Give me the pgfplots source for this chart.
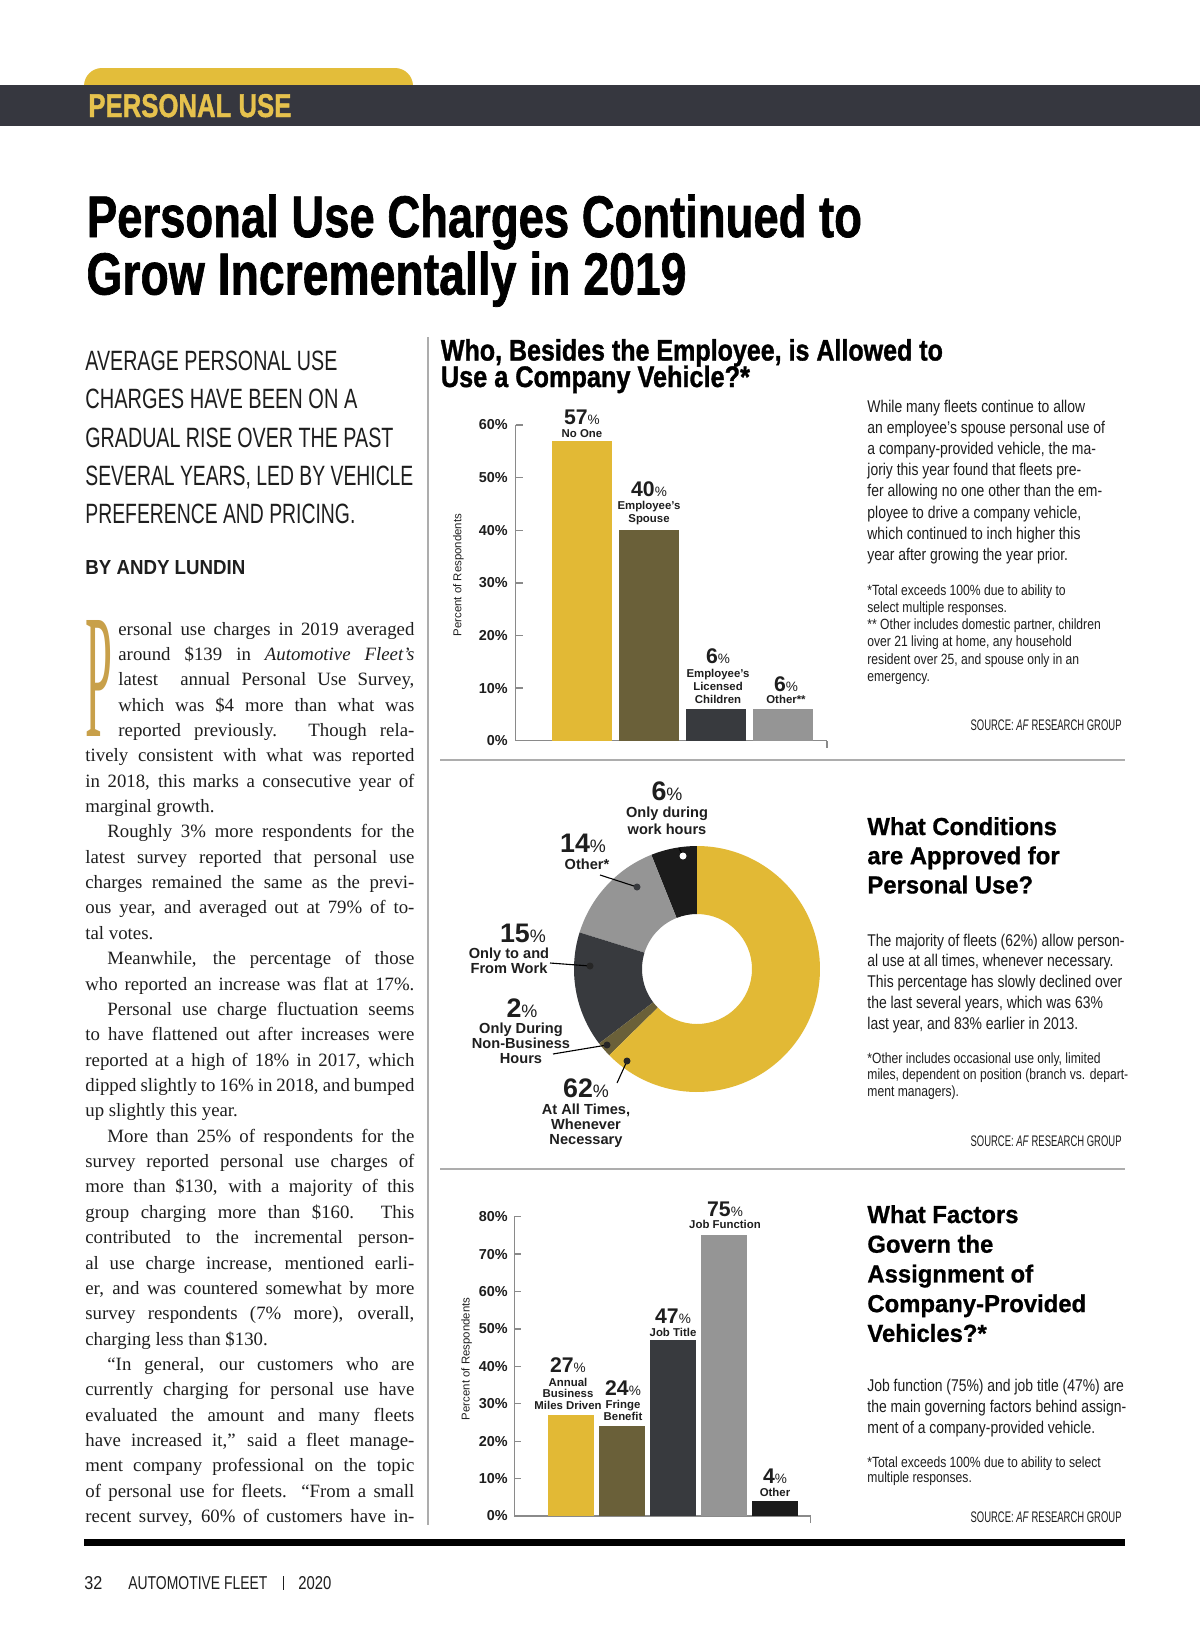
\documentclass[border=0pt]{standalone}
\usepackage{fontspec}
\usepackage{graphicx}
\usepackage{pgfplots}
\pgfplotsset{compat=1.18}
\setmainfont{Liberation Serif}
\newfontfamily\hv{Liberation Sans}
\newfontfamily\hvb[FakeBold=1.3]{Liberation Sans}
\newfontfamily\hvh[FakeBold=0.8, FakeStretch=0.97]{Liberation Sans}
\newfontfamily\hvc[FakeStretch=0.82]{Liberation Sans}

\definecolor{cgold}{HTML}{E2B935}
\definecolor{colive}{HTML}{6A6039}
\definecolor{cdark}{HTML}{383A3E}
\definecolor{clight}{HTML}{959595}
\definecolor{cblack}{HTML}{1B1B1B}
\definecolor{axgray}{HTML}{8A8A8A}
\definecolor{band}{HTML}{36373F}
\definecolor{tabc}{HTML}{E3BD3A}
\definecolor{hdrtxt}{HTML}{E6C24D}
\definecolor{dropc}{HTML}{C8A04A}
\definecolor{rulec}{HTML}{ADADAD}
\definecolor{txt}{HTML}{1E1E1E}

\newcommand\cstack[2]{\vtop{\baselineskip=#1\relax\lineskiplimit=-20pt\lineskip=0pt\halign{\hfil##\hfil\cr#2\crcr}}}
\newcommand\lstack[2]{\vtop{\baselineskip=#1\relax\lineskiplimit=-20pt\lineskip=0pt\halign{##\hfil\cr#2\crcr}}}
\newcommand\bn[3]{{\hv\bfseries\fontsize{#1}{#1}\selectfont #3}{\hv\fontsize{#2}{#2}\selectfont\%}}
\newlength\colw \setlength\colw{164.5pt}
\newlength\colwi \setlength\colwi{148pt}
\newcommand\J[1]{\hbox to \colw{#1}}
\newcommand\Ji[1]{\hbox to \colwi{#1}}
\newcommand\E[1]{\hbox to \colw{#1\hfil}}
\newcommand\lbA{\hv\bfseries\fontsize{5.7}{6.5}\selectfont}
\newcommand\lbD{\hv\bfseries\fontsize{7.3}{8}\selectfont}

\begin{document}
\begin{tikzpicture}[x=0.5pt,y=-0.5pt]
\useasboundingbox (0,0) rectangle (1200,1638);
\fill[white] (0,0) rectangle (1200,1638);

% ---------- header ----------
\fill[tabc, rounded corners=9pt] (84,68) rectangle (413,104);
\fill[band] (0,85) rectangle (1200,126);
\node[anchor=base west, inner sep=0pt, text=hdrtxt] at (88,117) {\resizebox{101.5pt}{11.5pt}{\hvb\bfseries PERSONAL USE}};

% ---------- main title ----------
\node[anchor=base west, inner sep=0pt, text=black] at (86.5,237) {\resizebox{387.5pt}{21.25pt}{\hvb\bfseries Personal Use Charges Continued to}};
\node[anchor=base west, inner sep=0pt, text=black] at (86,294.5) {\resizebox{300pt}{21.5pt}{\hvb\bfseries Grow Incrementally in 2019}};

% ---------- left column ----------
\node[anchor=base west, inner sep=0pt, text=txt] at (85,370) {\resizebox{126pt}{9.75pt}{\hv AVERAGE PERSONAL USE}};
\node[anchor=base west, inner sep=0pt, text=txt] at (85,408.5) {\resizebox{136pt}{9.75pt}{\hv CHARGES HAVE BEEN ON A}};
\node[anchor=base west, inner sep=0pt, text=txt] at (85,447) {\resizebox{154pt}{9.75pt}{\hv GRADUAL RISE OVER THE PAST}};
\node[anchor=base west, inner sep=0pt, text=txt] at (85,485.5) {\resizebox{164pt}{9.75pt}{\hv SEVERAL YEARS, LED BY VEHICLE}};
\node[anchor=base west, inner sep=0pt, text=txt] at (85,523.5) {\resizebox{135pt}{9.75pt}{\hv PREFERENCE AND PRICING.}};
\node[anchor=base west, inner sep=0pt, text=txt] at (85,574) {\resizebox{80pt}{7pt}{\hv\bfseries BY ANDY LUNDIN}};

\node[anchor=base west, inner sep=0pt, text=dropc] at (85,736) {\resizebox{13.5pt}{58pt}{\fontsize{20}{20}\selectfont P}};

\node[anchor=base west, inner sep=0pt, text=txt] at (118,635) {\fontsize{9.4}{12.68}\selectfont\vtop{\baselineskip=12.68pt\lineskiplimit=-20pt\lineskip=0pt
\Ji{ersonal use charges in 2019 averaged}
\Ji{around \$139 in \textit{Automotive Fleet’s}}
\Ji{latest \ annual Personal Use Survey,}
\Ji{which was \$4 more than what was}
\Ji{reported previously. Though rela-}
}};
\node[anchor=base west, inner sep=0pt, text=txt] at (85,761.8) {\fontsize{9.4}{12.68}\selectfont\vtop{\baselineskip=12.68pt\lineskiplimit=-20pt\lineskip=0pt
\J{tively consistent with what was reported}
\J{in 2018, this marks a consecutive year of}
\E{marginal growth.}
\J{\hspace*{11pt}Roughly 3\% more respondents for the}
\J{latest survey reported that personal use}
\J{charges remained the same as the previ-}
\J{ous year, and averaged out at 79\% of to-}
\E{tal votes.}
\J{\hspace*{11pt}Meanwhile, the percentage of those}
\J{who reported an increase was flat at 17\%.}
\J{\hspace*{11pt}Personal use charge fluctuation seems}
\J{to have flattened out after increases were}
\J{reported at a high of 18\% in 2017, which}
\J{dipped slightly to 16\% in 2018, and bumped}
\E{up slightly this year.}
\J{\hspace*{11pt}More than 25\% of respondents for the}
\J{survey reported personal use charges of}
\J{more than \$130, with a majority of this}
\J{group charging more than \$160. This}
\J{contributed to the incremental person-}
\J{al use charge increase, mentioned earli-}
\J{er, and was countered somewhat by more}
\J{survey respondents (7\% more), overall,}
\E{charging less than \$130.}
\J{\hspace*{11pt}“In general, our customers who are}
\J{currently charging for personal use have}
\J{evaluated the amount and many fleets}
\J{have increased it,” said a fleet manage-}
\J{ment company professional on the topic}
\J{of personal use for fleets. “From a small}
\J{recent survey, 60\% of customers have in-}
}};

% ---------- rules ----------
\draw[rulec, line width=0.6pt] (428,337) -- (428,1525);
\draw[rulec, line width=1pt] (440,760) -- (1125,760);
\draw[rulec, line width=1pt] (440,1169) -- (1125,1169);
\fill[black] (84,1539) rectangle (1125,1546);

% ---------- footer ----------
\node[anchor=base west, inner sep=0pt, text=txt] at (84,1589) {\resizebox{9pt}{6.5pt}{\hv 32}};
\node[anchor=base west, inner sep=0pt, text=txt] at (128,1589) {\resizebox{69.5pt}{6.5pt}{\hv AUTOMOTIVE FLEET}};
\draw[txt, line width=0.5pt] (283,1576) -- (283,1590);
\node[anchor=base west, inner sep=0pt, text=txt] at (298,1589) {\resizebox{16.5pt}{6.5pt}{\hv 2020}};

% ---------- chart 1 ----------
\node[anchor=base west, inner sep=0pt, text=black] at (440.5,360.5) {\resizebox{251pt}{10.75pt}{\hvb\bfseries Who, Besides the Employee, is Allowed to}};
\node[anchor=base west, inner sep=0pt, text=black] at (440.5,387) {\resizebox{154.5pt}{10.75pt}{\hvb\bfseries Use a Company Vehicle?*}};

\begin{axis}[
  at={(257.85pt,-370.35pt)}, anchor=south west,
  scale only axis, width=155.65pt, height=157.85pt,
  xmin=-0.99, xmax=3.657, ymin=0, ymax=60,
  axis x line*=bottom, axis y line*=left, tick pos=left,
  axis line style={axgray, line width=0.65pt},
  tick style={axgray, line width=0.65pt},
  tick align=inside, major tick length=3.5pt,
  xtick=\empty, extra x ticks={3.657}, extra x tick labels={},
  ytick={0,10,20,30,40,50,60},
  yticklabels={0\%,10\%,20\%,30\%,40\%,50\%,60\%},
  yticklabel style={font=\hv\bfseries\fontsize{7.2}{8}\selectfont, inner sep=0pt, xshift=-3.85pt, text=txt},
  ylabel={Percent of Respondents},
  every axis y label/.style={at={(axis description cs:-0.184,0.525)}, rotate=90, anchor=center, font=\hv\fontsize{5.7}{6}\selectfont, text=txt},
  ybar=0pt, bar width=30pt,
  clip=false,
]
\addplot[fill=cgold, draw=none, bar shift=0pt] coordinates {(0,57)};
\addplot[fill=colive, draw=none, bar shift=0pt] coordinates {(1,40)};
\addplot[fill=cdark, draw=none, bar shift=0pt] coordinates {(2,6)};
\addplot[fill=clight, draw=none, bar shift=0pt] coordinates {(3,6)};
\end{axis}

\node[anchor=base, inner sep=0pt, text=txt] at (582,424) {\bn{10.6}{6.8}{57}};
\node[anchor=base, inner sep=0pt, text=txt] at (582,437) {\lbA\cstack{6.5pt}{No One}};
\node[anchor=base, inner sep=0pt, text=txt] at (649,496) {\bn{10.6}{6.8}{40}};
\node[anchor=base, inner sep=0pt, text=txt] at (649,509) {\lbA\cstack{6.5pt}{Employee’s\cr Spouse}};
\node[anchor=base, inner sep=0pt, text=txt] at (718,663) {\bn{10.6}{6.8}{6}};
\node[anchor=base, inner sep=0pt, text=txt] at (718,677) {\lbA\cstack{6.5pt}{Employee’s\cr Licensed\cr Children}};
\node[anchor=base, inner sep=0pt, text=txt] at (786,691) {\bn{10.6}{6.8}{6}};
\node[anchor=base, inner sep=0pt, text=txt] at (786,703) {\lbA\cstack{6.5pt}{Other**}};

\node[anchor=base west, inner sep=0pt, text=txt] at (867,412) {\hvc\fontsize{8.5}{10.6}\selectfont\lstack{10.6pt}{While many fleets continue to allow\cr
an employee’s spouse personal use of\cr
a company-provided vehicle, the ma-\cr
joriy this year found that fleets pre-\cr
fer allowing no one other than the em-\cr
ployee to drive a company vehicle,\cr
which continued to inch higher this\cr
year after growing the year prior.}};
\node[anchor=base west, inner sep=0pt, text=txt] at (867,595) {\hvc\fontsize{7.4}{8.65}\selectfont\lstack{8.65pt}{*Total exceeds 100\% due to ability to\cr
select multiple responses.\cr
** Other includes domestic partner, children\cr
over 21 living at home, any household\cr
resident over 25, and spouse only in an\cr
emergency.}};
\node[anchor=base east, inner sep=0pt, text=txt] at (1122,730) {\resizebox{75.5pt}{5.35pt}{\hv SOURCE: \textit{AF} RESEARCH GROUP}};

% ---------- chart 2 (donut) ----------
\begin{scope}[shift={(697,969)}]
  \pgfmathsetmacro\aA{90}
  \pgfmathsetmacro\aB{\aA+6/99*360}
  \pgfmathsetmacro\aC{\aB+14/99*360}
  \pgfmathsetmacro\aD{\aC+15/99*360}
  \pgfmathsetmacro\aE{\aD+2/99*360}
  \pgfmathsetmacro\aF{\aE+62/99*360}
  \foreach \s/\e/\c in {\aA/\aB/cblack, \aB/\aC/clight, \aC/\aD/cdark, \aD/\aE/colive, \aE/\aF/cgold}{
    \fill[\c] (\s:61.5pt) arc[start angle=\s, end angle=\e, radius=61.5pt] -- (\e:27.5pt) arc[start angle=\e, end angle=\s, radius=27.5pt] -- cycle;
  }
\end{scope}

\draw[black, line width=0.55pt] (679,848) -- (683,856);
\fill[white] (683,856) circle[radius=1.75pt];
\draw[black, line width=0.55pt] (600,875) -- (637,887);
\fill[cdark] (637,887) circle[radius=1.75pt];
\draw[black, line width=0.55pt] (550,963) -- (590,966);
\fill[black!85] (590,966) circle[radius=1.75pt];
\draw[black, line width=0.55pt] (553,1054) -- (607,1045);
\fill[black!85] (607,1045) circle[radius=1.75pt];
\draw[black, line width=0.55pt] (617,1083) -- (627,1061);
\fill[black!85] (627,1061) circle[radius=1.75pt];

\node[anchor=base, inner sep=0pt, text=txt] at (667,800) {\bn{13.4}{9}{6}};
\node[anchor=base, inner sep=0pt, text=txt] at (667,817) {\lbD\cstack{8.5pt}{Only during\cr work hours}};
\node[anchor=base, inner sep=0pt, text=txt] at (583,852) {\bn{13.4}{9}{14}};
\node[anchor=base, inner sep=0pt, text=txt] at (587,869) {\lbD\cstack{8pt}{Other*}};
\node[anchor=base, inner sep=0pt, text=txt] at (523,942) {\bn{13.4}{9}{15}};
\node[anchor=base, inner sep=0pt, text=txt] at (509,958) {\lbD\cstack{7.6pt}{Only to and\cr From Work}};
\node[anchor=base, inner sep=0pt, text=txt] at (522,1017) {\bn{13.4}{9}{2}};
\node[anchor=base, inner sep=0pt, text=txt] at (521,1033) {\lbD\cstack{7.5pt}{Only During\cr Non-Business\cr Hours}};
\node[anchor=base, inner sep=0pt, text=txt] at (586,1097) {\bn{13.4}{9}{62}};
\node[anchor=base, inner sep=0pt, text=txt] at (586,1114) {\lbD\cstack{7.5pt}{At All Times,\cr Whenever\cr Necessary}};

\node[anchor=base west, inner sep=0pt, text=black] at (867,835) {\hvh\bfseries\fontsize{12.3}{14.6}\selectfont\lstack{14.6pt}{What Conditions\cr are Approved for\cr Personal Use?}};
\node[anchor=base west, inner sep=0pt, text=txt] at (867,946) {\hvc\fontsize{8.5}{10.45}\selectfont\lstack{10.45pt}{The majority of fleets (62\%) allow person-\cr
al use at all times, whenever necessary.\cr
This percentage has slowly declined over\cr
the last several years, which was 63\%\cr
last year, and 83\% earlier in 2013.}};
\node[anchor=base west, inner sep=0pt, text=txt] at (867,1063) {\hvc\fontsize{7.4}{8.4}\selectfont\lstack{8.4pt}{*Other includes occasional use only, limited\cr
miles, dependent on position (branch vs. depart-\cr
ment managers).}};
\node[anchor=base east, inner sep=0pt, text=txt] at (1122,1146) {\resizebox{75.5pt}{5.35pt}{\hv SOURCE: \textit{AF} RESEARCH GROUP}};

% ---------- chart 3 ----------
\begin{axis}[
  at={(257.15pt,-758pt)}, anchor=south west,
  scale only axis, width=148.2pt, height=149.65pt,
  xmin=-1.11, xmax=4.69, ymin=0, ymax=80,
  axis x line*=bottom, axis y line*=left, tick pos=left,
  axis line style={axgray, line width=0.65pt},
  tick style={axgray, line width=0.65pt},
  tick align=inside, major tick length=3.5pt,
  xtick=\empty, extra x ticks={4.69}, extra x tick labels={},
  ytick={0,10,20,30,40,50,60,70,80},
  yticklabels={0\%,10\%,20\%,30\%,40\%,50\%,60\%,70\%,80\%},
  yticklabel style={font=\hv\bfseries\fontsize{7.2}{8}\selectfont, inner sep=0pt, xshift=-3.15pt, text=txt},
  ylabel={Percent of Respondents},
  every axis y label/.style={at={(axis description cs:-0.161,0.525)}, rotate=90, anchor=center, font=\hv\fontsize{5.7}{6}\selectfont, text=txt},
  ybar=0pt, bar width=23pt,
  clip=false,
]
\addplot[fill=cgold, draw=none, bar shift=0pt] coordinates {(0,27)};
\addplot[fill=colive, draw=none, bar shift=0pt] coordinates {(1,24)};
\addplot[fill=cdark, draw=none, bar shift=0pt] coordinates {(2,47)};
\addplot[fill=clight, draw=none, bar shift=0pt] coordinates {(3,75)};
\addplot[fill=cblack, draw=none, bar shift=0pt] coordinates {(4,4)};
\end{axis}

\node[anchor=base, inner sep=0pt, text=txt] at (568,1372) {\bn{10.6}{6.8}{27}};
\node[anchor=base, inner sep=0pt, text=txt] at (568,1386) {\lbA\cstack{5.75pt}{Annual\cr Business\cr Miles Driven}};
\node[anchor=base, inner sep=0pt, text=txt] at (623,1395) {\bn{10.6}{6.8}{24}};
\node[anchor=base, inner sep=0pt, text=txt] at (623,1408) {\lbA\cstack{6pt}{Fringe\cr Benefit}};
\node[anchor=base, inner sep=0pt, text=txt] at (673,1323) {\bn{10.6}{6.8}{47}};
\node[anchor=base, inner sep=0pt, text=txt] at (673,1336) {\lbA\cstack{6pt}{Job Title}};
\node[anchor=base, inner sep=0pt, text=txt] at (725,1216) {\bn{10.6}{6.8}{75}};
\node[anchor=base, inner sep=0pt, text=txt] at (725,1228) {\lbA\cstack{6pt}{Job Function}};
\node[anchor=base, inner sep=0pt, text=txt] at (775,1483) {\bn{10.6}{6.8}{4}};
\node[anchor=base, inner sep=0pt, text=txt] at (775,1496) {\lbA\cstack{6pt}{Other}};

\node[anchor=base west, inner sep=0pt, text=black] at (867,1223) {\hvh\bfseries\fontsize{12.3}{14.85}\selectfont\lstack{14.85pt}{What Factors\cr Govern the\cr Assignment of\cr Company-Provided\cr Vehicles?*}};
\node[anchor=base west, inner sep=0pt, text=txt] at (867,1391) {\hvc\fontsize{8.5}{10.5}\selectfont\lstack{10.5pt}{Job function (75\%) and job title (47\%) are\cr
the main governing factors behind assign-\cr
ment of a company-provided vehicle.}};
\node[anchor=base west, inner sep=0pt, text=txt] at (867,1467) {\hvc\fontsize{7.4}{7.6}\selectfont\lstack{7.6pt}{*Total exceeds 100\% due to ability to select\cr
multiple responses.}};
\node[anchor=base east, inner sep=0pt, text=txt] at (1122,1522) {\resizebox{75.5pt}{5.35pt}{\hv SOURCE: \textit{AF} RESEARCH GROUP}};
\end{tikzpicture}
\end{document}
